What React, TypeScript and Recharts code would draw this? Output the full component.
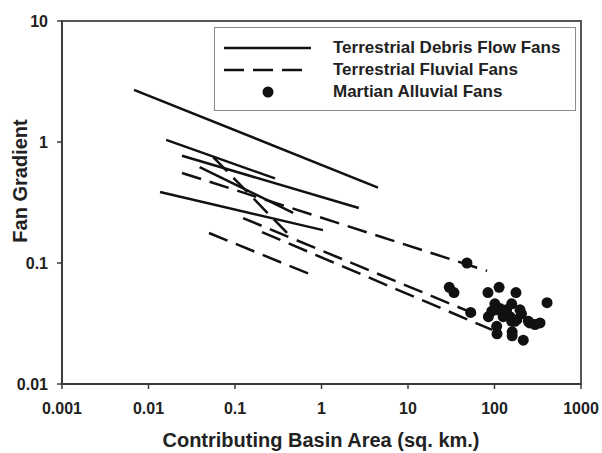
import { ComposedChart, Label, Legend, Line, ReferenceArea, Scatter, XAxis, YAxis } from "recharts";

const FONT = '"Liberation Sans", Arial, sans-serif';
const INK = "#111";

const AREA_TICKS = [0.001, 0.01, 0.1, 1, 10, 100, 1000];
const GRADIENT_TICKS = [0.01, 0.1, 1, 10];

// trend lines: [areaStart, gradientStart, areaEnd, gradientEnd]
const debrisFlowFans = [
  [0.0068, 2.7, 4.5, 0.42],
  [0.016, 1.04, 0.29, 0.5],
  [0.0244, 0.77, 2.7, 0.285],
  [0.0136, 0.386, 1.04, 0.187],
  [0.039, 0.62, 0.47, 0.26],
];

const fluvialFans = [
  [0.0244, 0.555, 82, 0.086],
  [0.05, 0.177, 0.76, 0.08],
  [0.056, 0.75, 0.4, 0.177],
  [0.124, 0.235, 78, 0.035],
  [0.205, 0.18, 94, 0.028],
];

const martianArea = [
  48, 30, 34, 84, 113, 177, 405, 53, 101, 93, 116, 138, 158, 197, 126, 151,
  181, 158, 246, 294, 336, 106, 107, 160, 160, 215, 85, 107, 138, 205, 172, 255,
];
const martianGradient = [
  0.1, 0.063, 0.057, 0.057, 0.063, 0.057, 0.047, 0.039, 0.046, 0.04, 0.042, 0.041, 0.046, 0.041, 0.036, 0.036,
  0.034, 0.033, 0.033, 0.031, 0.032, 0.03, 0.026, 0.027, 0.025, 0.023, 0.036, 0.041, 0.038, 0.038, 0.033, 0.032,
];

const legendItems = [
  { label: "Terrestrial Debris Flow Fans", kind: "solid" },
  { label: "Terrestrial Fluvial Fans", kind: "dashed" },
  { label: "Martian Alluvial Fans", kind: "dot" },
];

const toSegment = (s: number[]) => [
  { area: s[0], gradient: s[1] },
  { area: s[2], gradient: s[3] },
];

const martianData = martianArea.map((a, i) => ({ area: a, gradient: martianGradient[i] }));

const tickFmt = (v: number) => String(v);

function FanLegend() {
  return (
    <div
      style={{
        width: 362, height: 84, boxSizing: "border-box", border: "1px solid #8a8a8a", background: "#fff",
        paddingTop: 9, fontFamily: FONT, fontWeight: 700, fontSize: 17, color: "#222",
      }}
    >
      {legendItems.map((it) => (
        <div key={it.label} style={{ display: "flex", alignItems: "center", height: 22 }}>
          <svg width={118} height={22} style={{ flex: "none" }}>
            {it.kind === "dot" ? (
              <circle cx={53} cy={11} r={5.5} fill={INK} />
            ) : (
              <line x1={9} x2={96} y1={11} y2={11} stroke={INK} strokeWidth={2.5}
                strokeDasharray={it.kind === "dashed" ? "20 9" : undefined} />
            )}
          </svg>
          <span style={{ lineHeight: "22px", whiteSpace: "nowrap" }}>{it.label}</span>
        </div>
      ))}
    </div>
  );
}

export default function App() {
  const tick = { fontSize: 16, fontWeight: 700, fill: "#222", fontFamily: FONT };
  return (
    <div style={{ position: "absolute", left: 0, top: 0, background: "#fff" }}>
      <ComposedChart width={602} height={453} margin={{ top: 21, right: 21, left: 0, bottom: 0 }}>
        <XAxis
          dataKey="area" type="number" scale="log" domain={[0.001, 1000]} ticks={AREA_TICKS}
          allowDataOverflow tickFormatter={tickFmt} height={69} tick={tick}
          tickSize={5} tickMargin={14} stroke="#3a3a3a" axisLine={{ strokeWidth: 2 }} tickLine={{ strokeWidth: 1.5 }}
        >
          <Label
            content={() => (
              <text x={321} y={447} textAnchor="middle" fontFamily={FONT} fontWeight={700} fontSize={20} fill="#222">
                Contributing Basin Area (sq. km.)
              </text>
            )}
          />
        </XAxis>
        <YAxis
          dataKey="gradient" type="number" scale="log" domain={[0.01, 10]} ticks={GRADIENT_TICKS}
          allowDataOverflow tickFormatter={tickFmt} width={62} tick={tick}
          tickSize={5} tickMargin={9} stroke="#3a3a3a" axisLine={{ strokeWidth: 2 }} tickLine={{ strokeWidth: 1.5 }}
        >
          <Label
            content={() => (
              <text x={27} y={181} transform="rotate(-90, 27, 181)" textAnchor="middle" fontFamily={FONT}
                fontWeight={700} fontSize={20} fill="#222">
                Fan Gradient
              </text>
            )}
          />
        </YAxis>
        <ReferenceArea x1={0.001} x2={1000} y1={0.01} y2={10} fill="none" stroke="#555" strokeWidth={2} />
        {debrisFlowFans.map((s, i) => (
          <Line key={`d${i}`} data={toSegment(s)} dataKey="gradient" stroke={INK} strokeWidth={2.5}
            dot={false} activeDot={false} legendType="none" isAnimationActive={false} />
        ))}
        {fluvialFans.map((s, i) => (
          <Line key={`f${i}`} data={toSegment(s)} dataKey="gradient" stroke={INK} strokeWidth={2.5}
            strokeDasharray="20 9" dot={false} activeDot={false} legendType="none" isAnimationActive={false} />
        ))}
        <Scatter
          data={martianData} legendType="none" isAnimationActive={false}
          shape={(p: any) => <circle cx={p.cx} cy={p.cy} r={5.5} fill={INK} />}
        />
        <Legend
          layout="vertical" align="center" verticalAlign="middle" content={() => <FanLegend />}
          wrapperStyle={{ left: 214, top: 27, width: 362, height: 84 }}
        />
      </ComposedChart>
    </div>
  );
}
